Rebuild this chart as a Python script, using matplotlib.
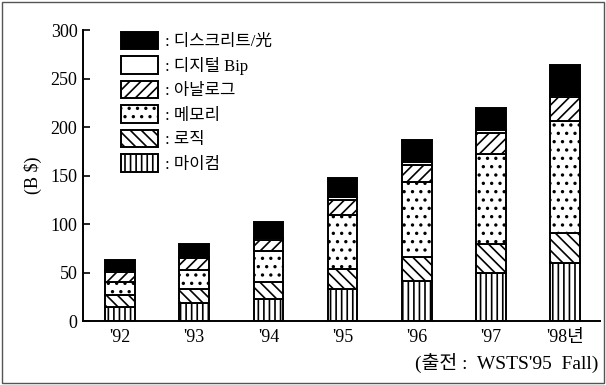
import numpy as np
import matplotlib
matplotlib.use("Agg")
import matplotlib.pyplot as plt
from matplotlib.patches import Patch, Rectangle

plt.rcParams["hatch.linewidth"] = 1.2
plt.rcParams["font.family"] = ["Liberation Serif", "Noto Sans CJK KR"]

years = ["'92", "'93", "'94", "'95", "'96", "'97", "'98년"]

# market size by segment, B$ (stacked bottom to top)
micro = [15, 19, 23, 33, 41, 50, 60]
logic = [12, 14, 17, 21, 25, 29, 31]
memory = [13, 20, 32, 55, 77, 93, 115]
analog = [11, 12, 12, 15.5, 18, 22, 25]
digital_bip = [1.5, 1.5, 2, 3, 2.5, 2.5, 2.5]
discrete = [10.5, 12.5, 16, 20, 23, 23, 30]

series = [
    ("마이컴", micro, "white", "|||"),
    ("로직", logic, "white", "\\\\\\"),
    ("메모리", memory, "white", ".."),
    ("아날로그", analog, "white", "///"),
    ("디지털 Bip", digital_bip, "white", None),
    ("디스크리트/光", discrete, "black", None),
]

fig = plt.figure(figsize=(6.06, 3.85), dpi=100)
ax = fig.add_axes([0.137, 0.166, 0.853, 0.756])

x = np.arange(len(years))
bottom = np.zeros(len(years))
handles = []
for name, vals, color, hatch in series:
    ax.bar(x, vals, width=0.4, bottom=bottom, color=color, hatch=hatch,
           edgecolor="black", linewidth=1.4)
    bottom += np.array(vals)
    handles.append(Patch(facecolor=color, hatch=hatch, edgecolor="black",
                         linewidth=1.4, label=": " + name))

ax.set_xlim(-0.5, 6.47)
ax.set_ylim(0, 300)
ax.set_yticks([0, 50, 100, 150, 200, 250, 300])
ax.set_xticks(x)
ax.set_xticklabels(years, fontsize=13)
ax.tick_params(axis="y", direction="in", length=5, width=1.2, labelsize=13, pad=4)
ax.tick_params(axis="x", length=0, pad=6)
for s in ["top", "right"]:
    ax.spines[s].set_visible(False)
ax.spines["left"].set_linewidth(1.4)
ax.spines["bottom"].set_linewidth(1.4)

ax.set_ylabel("(B $)", fontsize=13, labelpad=6)

leg = ax.legend(handles=handles[::-1], loc="upper left",
                bbox_to_anchor=(0.045, 1.045), frameon=False, fontsize=12,
                handlelength=2.2, handleheight=1.2, labelspacing=0.38,
                handletextpad=0.4)

fig.text(0.987, 0.057, "(출전 :  WSTS'95  Fall)", ha="right", va="center",
         fontsize=14)

# frame around the whole figure
fig.patches.append(Rectangle((0.004, 0.004), 0.992, 0.99, transform=fig.transFigure,
                             fill=False, edgecolor="#555555", linewidth=1))

fig.savefig("out.png", dpi=100)
